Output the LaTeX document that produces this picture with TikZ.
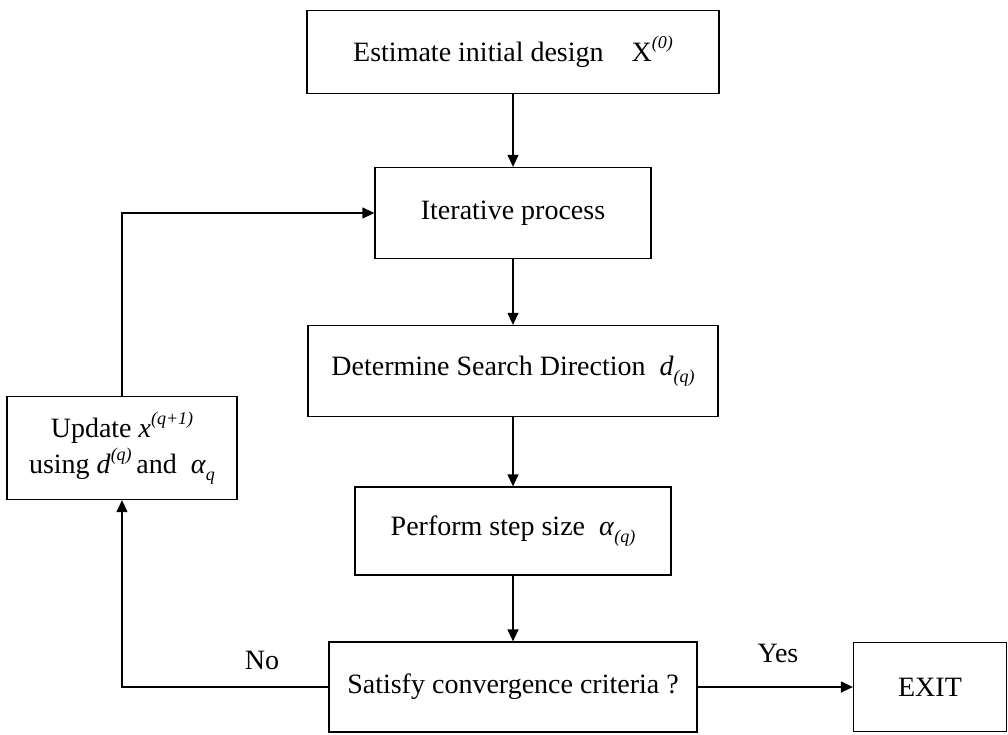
\documentclass[tikz,border=0pt]{standalone}
\usepackage{fontspec}
\setmainfont{Liberation Serif}
\usetikzlibrary{arrows.meta}
\newcommand\mysup[1]{\raisebox{1.0ex}{\fontsize{18}{18}\selectfont\itshape #1}}
\newcommand\mysub[1]{\raisebox{-0.55ex}{\fontsize{18}{18}\selectfont\itshape #1}}
\begin{document}
\begin{tikzpicture}[x=1pt,y=-1pt,
  box/.style={draw, line width=1.3pt, rectangle, inner sep=0pt, align=center,
    font=\fontsize{28}{36}\selectfont},
  conn/.style={line width=1.3pt},
  arr/.style={conn, -{Triangle[length=12pt,width=11pt]}},
  lbl/.style={font=\fontsize{28}{32}\selectfont}]
\useasboundingbox (0,0) rectangle (1008,734);
\node[box, minimum width=412pt, minimum height=83pt] (init) at (513,52)
  {Estimate initial design\quad X\mysup{(0)}};
\node[box, minimum width=276pt, minimum height=91pt] (iter) at (513,213)
  {Iterative process};
\node[box, minimum width=410pt, minimum height=91pt] (dir) at (513,371)
  {Determine Search Direction\enspace \textit{d}\mysub{(q)}};
\node[box, minimum width=316pt, minimum height=88pt] (step) at (513,531)
  {Perform step size\enspace \textit{α}\mysub{(q)}};
\node[box, minimum width=368pt, minimum height=90pt] (conv) at (513,687)
  {Satisfy convergence criteria ?};
\node[box, minimum width=153pt, minimum height=89pt] (exit) at (930,687)
  {EXIT};
\node[box, minimum width=230pt, minimum height=103pt] (upd) at (122,448)
  {Update \textit{x}\mysup{(q+1)}\\using \textit{d}\mysup{(q)}\,and\enspace\textit{α}\mysub{q}};
\coordinate (c1) at (122,687);
\coordinate (c2) at (122,213);
\draw[arr] (init.south) -- (iter.north);
\draw[arr] (iter.south) -- (dir.north);
\draw[arr] (dir.south) -- (step.north);
\draw[arr] (step.south) -- (conv.north);
\draw[arr] (conv.east) -- (exit.west);
\draw[arr] (conv.west) -- (c1) -- (upd.south);
\draw[arr] (upd.north) -- (c2) -- (iter.west);
\node[lbl] (no) at (262,660) {No};
\node[lbl] (yes) at (778,653) {Yes};
\end{tikzpicture}
\end{document}
